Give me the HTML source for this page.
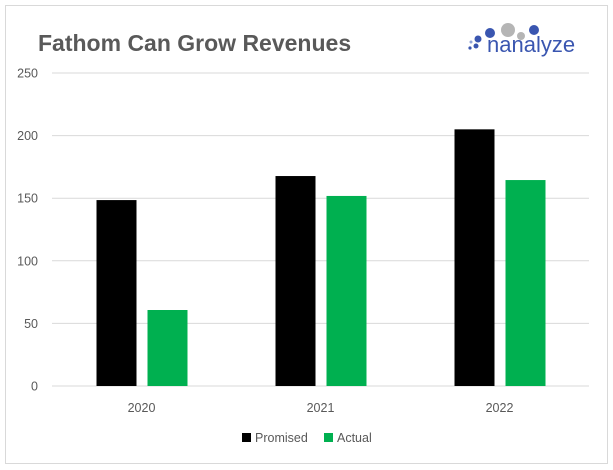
<!DOCTYPE html>
<html><head><meta charset="utf-8"><style>
body{margin:0;background:#fff;font-family:"Liberation Sans",sans-serif}
#frame{position:absolute;left:5px;top:5px;width:601px;height:457px;border:1px solid #d9d9d9;background:#fff}
</style></head><body>
<div id="frame"></div>
<svg id="chart" width="613" height="470" style="position:absolute;left:0;top:0">
<text x="38" y="51" font-size="23" font-weight="bold" fill="#595959">Fathom Can Grow Revenues</text>
<g>
<circle cx="470" cy="48" r="1.6" fill="#3a56b0"/><circle cx="476" cy="46" r="2.5" fill="#3a56b0"/><circle cx="471" cy="42" r="1.5" fill="#8fa3d8"/>
<circle cx="478" cy="39" r="3.5" fill="#3a56b0"/><circle cx="490" cy="33" r="5" fill="#3a56b0"/><circle cx="508" cy="30" r="7" fill="#b5b5b5"/>
<circle cx="521" cy="36" r="4" fill="#b5b5b5"/><circle cx="534" cy="30" r="5" fill="#3a56b0"/>
<text x="487" y="52" font-size="22" fill="#3a56b0">nanalyze</text>
</g>
<g id="grid"></g><g id="bars"></g><g id="labels"></g>
<g>
<rect x="242" y="433" width="9" height="9" fill="#000"/>
<text x="255" y="442" font-size="12.5" fill="#595959">Promised</text>
<rect x="324" y="433" width="9" height="9" fill="#00b050"/>
<text x="337" y="442" font-size="12.5" fill="#595959">Actual</text>
</g>
</svg>
<script>
const categories=["2020","2021","2022"];
const promised=[148.5,167.7,205];
const actual=[60.7,151.8,164.5];
const yTicks=[0,50,100,150,200,250];
const NS="http://www.w3.org/2000/svg";
const x0=52,x1=589,y0=386,yTop=73,yMax=250;
const y=v=>y0-(v/yMax)*(y0-yTop);
const band=(x1-x0)/categories.length;
const cx=i=>x0+band*(i+0.5);
function mk(tag,attrs,parent){const e=document.createElementNS(NS,tag);for(const k in attrs)e.setAttribute(k,attrs[k]);document.getElementById(parent).appendChild(e);return e;}
yTicks.forEach(t=>{
  const l=mk('line',{x1:x0,x2:x1,y1:y(t),y2:y(t),stroke:'#d9d9d9','stroke-width':1},'grid');
  
  
  const tx=mk('text',{x:38,y:y(t)+4.5,'font-size':12.5,fill:'#595959','text-anchor':'end'},'labels');
  tx.textContent=t;
  
  
});
categories.forEach((c,i)=>{
  const p=mk('rect',{x:cx(i)-45,y:y(promised[i]),width:40,height:y0-y(promised[i]),fill:'#000'},'bars');
  
  
  const a=mk('rect',{x:cx(i)+6,y:y(actual[i]),width:40,height:y0-y(actual[i]),fill:'#00b050'},'bars');
  
  
  const t=mk('text',{x:cx(i),y:412,'font-size':12.5,fill:'#595959','text-anchor':'middle'},'labels');
  t.textContent=c;
  
  
});
</script>
</body></html>
